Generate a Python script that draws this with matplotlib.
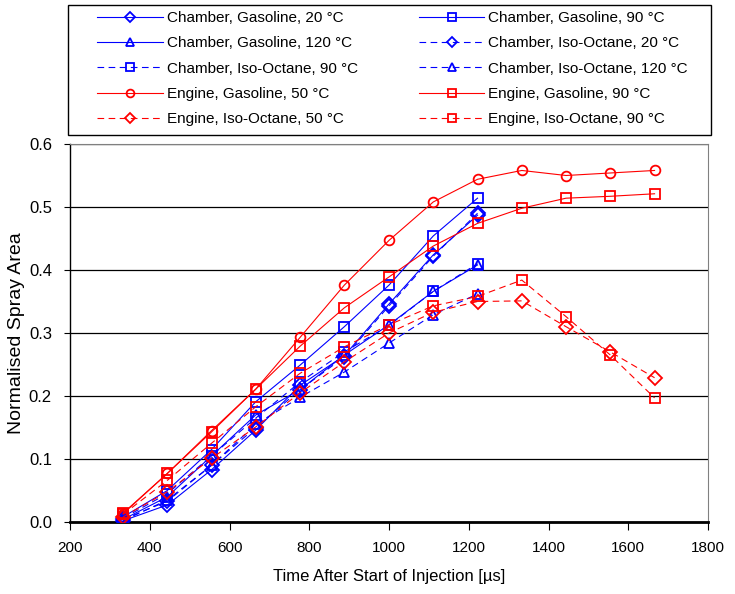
import matplotlib
matplotlib.use("Agg")
import matplotlib.pyplot as plt
from matplotlib.patches import Rectangle

# time after start of injection (us)
t_engine = [333, 444, 555, 666, 777, 888, 1000, 1111, 1222, 1333, 1444, 1555, 1666]
t_chamber = t_engine[:9]

chamber_gas_20 = [0.002, 0.027, 0.083, 0.146, 0.217, 0.264, 0.346, 0.424, 0.487]
chamber_gas_90 = [0.008, 0.050, 0.115, 0.191, 0.249, 0.310, 0.376, 0.454, 0.514]
chamber_gas_120 = [0.004, 0.040, 0.105, 0.170, 0.210, 0.265, 0.313, 0.366, 0.408]
chamber_iso_20 = [0.004, 0.033, 0.090, 0.150, 0.210, 0.262, 0.343, 0.422, 0.490]
chamber_iso_90 = [0.006, 0.045, 0.105, 0.165, 0.222, 0.270, 0.312, 0.366, 0.410]
chamber_iso_120 = [0.002, 0.035, 0.090, 0.155, 0.198, 0.238, 0.284, 0.329, 0.362]
engine_gas_50 = [0.013, 0.077, 0.145, 0.211, 0.293, 0.376, 0.447, 0.508, 0.544, 0.558, 0.550, 0.554, 0.558]
engine_gas_90 = [0.014, 0.077, 0.143, 0.211, 0.279, 0.340, 0.389, 0.438, 0.474, 0.498, 0.514, 0.517, 0.521]
engine_iso_50 = [0.008, 0.048, 0.101, 0.151, 0.205, 0.254, 0.300, 0.333, 0.350, 0.351, 0.310, 0.270, 0.229]
engine_iso_90 = [0.012, 0.066, 0.125, 0.183, 0.236, 0.278, 0.313, 0.343, 0.358, 0.384, 0.326, 0.265, 0.197]

BLUE, RED = "#0000ff", "#ff0000"
plt.rcParams["font.family"] = ["Liberation Sans", "DejaVu Sans"]

W, H = 735, 594
fig = plt.figure(figsize=(W / 100, H / 100), dpi=100)
ax = fig.add_axes([70 / W, 1 - 522 / H, 638 / W, 378 / H])

series = [
    (t_chamber, chamber_gas_20, BLUE, "-", "D", "Chamber, Gasoline, 20 \u00b0C"),
    (t_chamber, chamber_gas_90, BLUE, "-", "s", "Chamber, Gasoline, 90 \u00b0C"),
    (t_chamber, chamber_gas_120, BLUE, "-", "^", "Chamber, Gasoline, 120 \u00b0C"),
    (t_chamber, chamber_iso_20, BLUE, "--", "D", "Chamber, Iso-Octane, 20 \u00b0C"),
    (t_chamber, chamber_iso_90, BLUE, "--", "s", "Chamber, Iso-Octane, 90 \u00b0C"),
    (t_chamber, chamber_iso_120, BLUE, "--", "^", "Chamber, Iso-Octane, 120 \u00b0C"),
    (t_engine, engine_gas_50, RED, "-", "o", "Engine, Gasoline, 50 \u00b0C"),
    (t_engine, engine_gas_90, RED, "-", "s", "Engine, Gasoline, 90 \u00b0C"),
    (t_engine, engine_iso_50, RED, "--", "D", "Engine, Iso-Octane, 50 \u00b0C"),
    (t_engine, engine_iso_90, RED, "--", "s", "Engine, Iso-Octane, 90 \u00b0C"),
]

handles = {}
for x, y, c, ls, m, lbl in series:
    ms = {"D": 7, "^": 7.5, "o": 7, "s": 7}[m]
    (h,) = ax.plot(x, y, color=c, ls=ls, lw=0.8, marker=m, ms=ms, mfc="none",
                   mec=c, mew=1.3, dashes=(6, 4) if ls == "--" else (None, None),
                   label=lbl, zorder=3)
    handles[lbl] = h

ax.set_xlim(200, 1800)
ax.set_ylim(0, 0.6)
ax.set_xticks(range(200, 1801, 200))
ax.set_yticks([i / 10 for i in range(7)])
ax.set_yticklabels([f"{i / 10:.1f}" for i in range(7)])
ax.grid(axis="y", color="#000000", lw=0.9)
ax.set_axisbelow(True)
ax.tick_params(axis="x", direction="out", length=6, pad=8, labelsize=11)
ax.tick_params(axis="y", direction="out", length=4, pad=9, labelsize=12)
for s in ["top", "right"]:
    ax.spines[s].set_color("#808080")
ax.spines["bottom"].set_linewidth(2)
ax.spines["left"].set_linewidth(1)
ax.set_xlabel("Time After Start of Injection [\u00b5s]", fontsize=12, labelpad=10)
ax.set_ylabel("Normalised Spray Area", fontsize=14, labelpad=3)

# legend box drawn by hand; legend itself is frameless and filled
# column-wise, so order entries to read row by row
fig.patches.append(Rectangle((68 / W, 1 - 135 / H), 643 / W, 130 / H,
                             transform=fig.transFigure, fill=False,
                             edgecolor="k", lw=1))
labels = [s[5] for s in series]
order = labels[0::2] + labels[1::2]
leg = fig.legend([handles[l] for l in order], order, ncol=2,
                 loc="upper left", bbox_to_anchor=(97 / W, 1 - 11 / H),
                 fontsize=11, frameon=False, markerscale=0.8,
                 handlelength=4.3, handletextpad=0.25, labelspacing=0.74,
                 borderpad=0, borderaxespad=0, columnspacing=4.0)

fig.savefig("out.png", dpi=100)
